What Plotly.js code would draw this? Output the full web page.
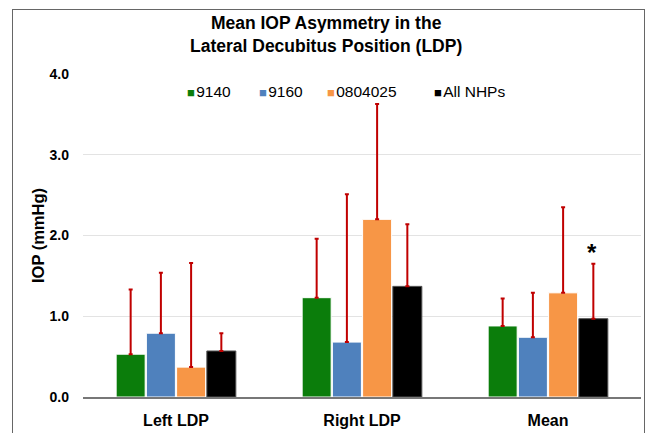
<!DOCTYPE html>
<html>
<head>
<meta charset="utf-8">
<script src="https://cdn.plot.ly/plotly-3.0.1.min.js"></script>
<style>
html,body{margin:0;padding:0;background:#fff;}
#wrap{position:relative;width:649px;height:433px;}
#chart{width:649px;height:433px;}
#frame{position:absolute;left:12px;top:9px;width:633px;height:440px;border:1.5px solid #666;pointer-events:none;box-sizing:border-box;}
</style>
</head>
<body>
<div id="wrap"><div id="chart"></div><div id="frame"></div></div>
<script>
const categories = ["Left LDP", "Right LDP", "Mean"];
const seriesNames = ["9140", "9160", "0804025", "All NHPs"];
const val9140 = [0.53, 1.23, 0.88];
const err9140 = [0.80, 0.73, 0.34];
const val9160 = [0.79, 0.68, 0.74];
const err9160 = [0.75, 1.83, 0.55];
const val0804025 = [0.37, 2.20, 1.29];
const err0804025 = [1.29, 1.43, 1.06];
const valAll = [0.57, 1.37, 0.97];
const errAll = [0.22, 0.77, 0.68];
const yTicks = [0, 1, 2, 3, 4];
const yTickLabels = ["0.0", "1.0", "2.0", "3.0", "4.0"];
const starCategory = "Mean";
const starValue = 1.60;

const colors = ["#0b7d0b", "#4f81bd", "#f79646", "#000000"];
const vals = [val9140, val9160, val0804025, valAll];
const errs = [err9140, err9160, err0804025, errAll];

const traces = seriesNames.map((n, i) => ({
  type: "bar",
  name: n,
  x: categories,
  y: vals[i],
  showlegend: false,
  marker: {color: colors[i], line: {color: i === 3 ? "#555" : "#ffffff", width: 1}},
  error_y: {type: "data", array: errs[i], symmetric: false, arrayminus: errs[i].map(() => 0), visible: true, color: "#c00000", thickness: 2, width: 2}
}));

// legend drawn as a row of text entries (small square + label) like the reference
const legendX = [185, 257, 325, 432]; // left edge in pixels of each entry
const plotL = 83, plotW = 649 - 83 - 8, plotB = 397, plotH = 323;
const legendAnns = seriesNames.map((n, i) => ({
  xref: "paper", yref: "paper",
  x: (legendX[i] - plotL) / plotW, y: 0.947,
  xanchor: "left", yanchor: "middle", showarrow: false,
  text: "<span style='color:" + colors[i] + ";font-size:13px'>■</span>&#8202;" + n,
  font: {size: 15.5, color: "#000"}
}));

const titleAnn = {
  xref: "paper", yref: "paper",
  x: (326 - plotL) / plotW, y: (plotB - 35) / plotH,
  xanchor: "center", yanchor: "middle", showarrow: false,
  text: "<b>Mean IOP Asymmetry in the<br>Lateral Decubitus Position (LDP)</b>",
  font: {size: 17.5, color: "#000"}
};

const layout = {
  width: 649, height: 433,
  margin: {l: 83, r: 8, t: 74, b: 36},
  paper_bgcolor: "#fff", plot_bgcolor: "#fff",
  font: {family: "Liberation Sans, Arial, sans-serif", color: "#000"},
  barmode: "group", bargap: 0.35, bargroupgap: 0.04,
  showlegend: false,
  xaxis: {type: "category", tickfont: {size: 16}, ticks: "", showline: true, linecolor: "#777", linewidth: 1.5, showgrid: false, zeroline: false, tickprefix: "<b>", ticksuffix: "</b>", ticklabelstandoff: 8},
  yaxis: {range: [0, 4], tickvals: yTicks, ticktext: yTickLabels.map(t => "<b>" + t + "</b>"), tickfont: {size: 14}, showgrid: true, gridcolor: "#e3e3e3", zeroline: false, showline: false, ticklen: 0, ticks: "", ticklabelstandoff: 13,
    title: {text: "<b>IOP (mmHg)</b>", font: {size: 16.5}, standoff: 0}},
  annotations: [titleAnn].concat(legendAnns).concat([{x: starCategory, y: starValue, xref: "x", yref: "y", text: "<b>*</b>", showarrow: false, font: {size: 24}, xshift: 44, yanchor: "bottom"}])
};

Plotly.newPlot("chart", traces, layout, {displayModeBar: false, staticPlot: true});
</script>
</body>
</html>
